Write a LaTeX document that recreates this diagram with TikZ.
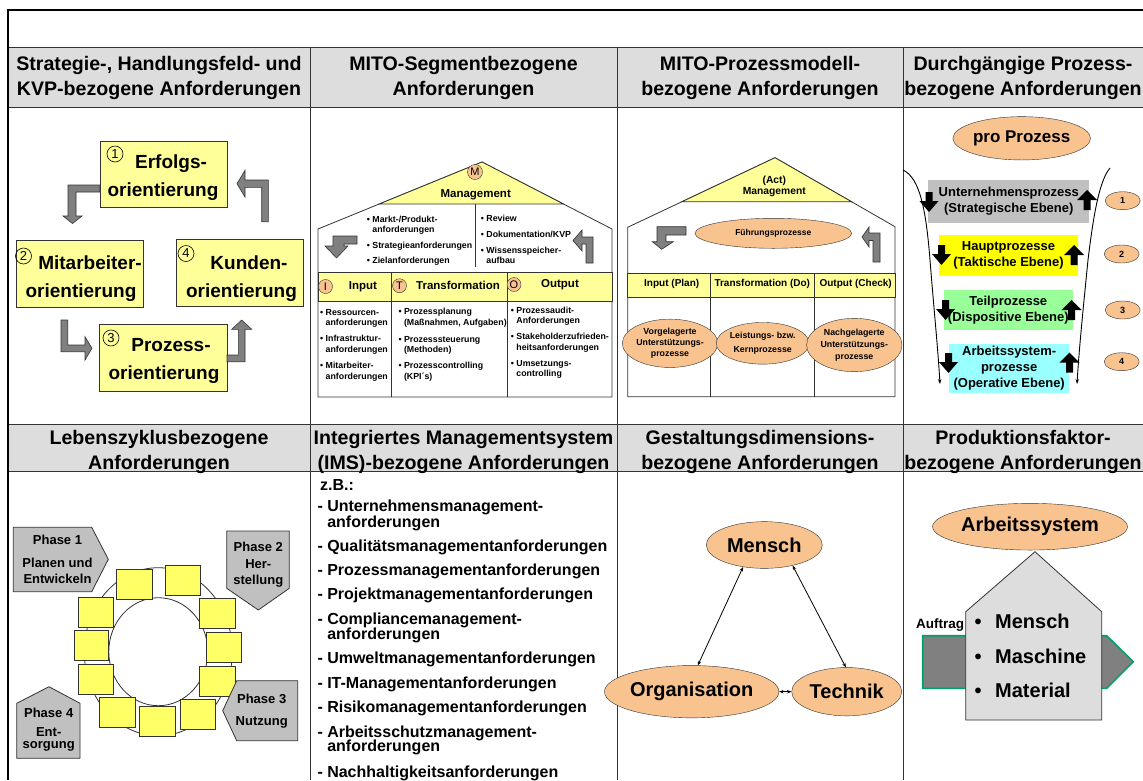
\documentclass[tikz,border=0pt]{standalone}
\usepackage{fontspec}
\setmainfont{Liberation Sans}
\usetikzlibrary{shapes.geometric,arrows.meta}
\definecolor{hdrgray}{HTML}{DDDDDD}
\definecolor{lyellow}{HTML}{FFFF99}
\definecolor{sqyellow}{HTML}{FFFF66}
\definecolor{orangef}{HTML}{F9C390}
\definecolor{arrgray}{HTML}{808080}
\definecolor{phgray}{HTML}{C0C0C0}
\definecolor{lgreen}{HTML}{99FF99}
\definecolor{lcyan}{HTML}{99FFFF}
\definecolor{byellow}{HTML}{FFFF00}
\definecolor{greenline}{HTML}{00A070}
\definecolor{linegray}{HTML}{333333}
\definecolor{housegray}{HTML}{DDDDDD}
\newcommand{\myfs}[2]{\fontsize{#1}{#2}\selectfont\bfseries}
\newcommand{\DnArr}[2]{\fill[black] ({#1-3.5},{#2}) -- ({#1+3.5},{#2}) -- ({#1+3.5},{#2+9}) -- ({#1+9.5},{#2+9}) -- ({#1},{#2+20}) -- ({#1-9.5},{#2+9}) -- ({#1-3.5},{#2+9}) -- cycle;}
\newcommand{\UpArr}[2]{\fill[black] ({#1-3.5},{#2+20}) -- ({#1+3.5},{#2+20}) -- ({#1+3.5},{#2+10}) -- ({#1+10},{#2+10}) -- ({#1},{#2}) -- ({#1-10},{#2+10}) -- ({#1-3.5},{#2+10}) -- cycle;}
\begin{document}
\begin{tikzpicture}[x=1pt,y=-1pt,
  grid/.style={draw=linegray, line width=0.8pt},
  hdr/.style={align=center, inner sep=0pt, font=\myfs{19.6}{25}},
  ybox/.style={draw=linegray, fill=lyellow, line width=0.8pt, inner sep=0pt},
  boxtxt/.style={align=center, inner sep=0pt, font=\myfs{19}{28}},
  numc/.style={circle, draw=black, line width=0.6pt, inner sep=0pt, minimum size=16pt, font=\fontsize{13}{13}\selectfont},
  blockarr/.style={fill=arrgray, draw=linegray, line width=0.6pt},
  house/.style={draw=linegray, line width=0.8pt},
  roof/.style={fill=lyellow, draw=linegray, line width=0.8pt},
  letc/.style={circle, draw=linegray, fill=orangef, inner sep=0pt, minimum size=14pt, font=\fontsize{11}{11}\selectfont},
  lbl/.style={inner sep=0pt, font=\myfs{11.5}{12}},
  small/.style={anchor=base west, inner sep=0pt, font=\myfs{8.8}{10}},
  oell/.style={ellipse, draw=linegray, fill=orangef, inner sep=0pt, align=center},
  lvl/.style={inner sep=0pt, align=center, font=\myfs{13}{15.5}},
  nume/.style={ellipse, draw=linegray, fill=orangef, inner sep=0pt, minimum width=35pt, minimum height=18pt, font=\myfs{9}{9}},
  sq/.style={draw=linegray, fill=sqyellow, line width=0.7pt},
  phase/.style={draw=linegray, fill=phgray, line width=0.8pt},
  phtxt/.style={inner sep=0pt, font=\myfs{13}{13}},
  ims/.style={anchor=base west, inner sep=0pt, font=\myfs{16}{16}},
  biarrow/.style={{Stealth[length=4.5pt,width=3.5pt]}-{Stealth[length=4.5pt,width=3.5pt]}, line width=0.8pt},
  funnel/.style={-{Stealth[length=5pt,width=3.5pt]}, line width=0.9pt}
]
\useasboundingbox (0,0) rectangle (1143,780);
\fill[white] (0,0) rectangle (1143,780);

% ---------- table ----------
\fill[hdrgray] (8,47) rectangle (1143,107);
\fill[hdrgray] (8,424) rectangle (1143,471);
\draw[grid] (8,47) -- (1143,47);
\draw[grid] (8,107) -- (1143,107);
\draw[grid] (8,424) -- (1143,424);
\draw[grid] (8,471) -- (1143,471);
\draw[grid] (310,47) -- (310,780);
\draw[grid] (617,47) -- (617,780);
\draw[grid] (903,47) -- (903,780);

\node[hdr] (h1) at (159,78) {Strategie-, Handlungsfeld- und\\KVP-bezogene Anforderungen};
\node[hdr] (h2) at (463.5,78) {MITO-Segmentbezogene\\Anforderungen};
\node[hdr] (h3) at (760,78) {MITO-Prozessmodell-\\bezogene Anforderungen};
\node[hdr] (h4) at (1023,78) {Durchgängige Prozess-\\bezogene Anforderungen};
\node[hdr] (h5) at (159,452) {Lebenszyklusbezogene\\Anforderungen};
\node[hdr] (h6) at (463.5,452) {Integriertes Managementsystem\\(IMS)-bezogene Anforderungen};
\node[hdr] (h7) at (760,452) {Gestaltungsdimensions-\\bezogene Anforderungen};
\node[hdr] (h8) at (1023,452) {Produktionsfaktor-\\bezogene Anforderungen};

% ---------- panel 1: orientations ----------
\node[ybox, minimum width=127pt, minimum height=66pt] (b1) at (163.5,174) {};
\node[ybox, minimum width=127pt, minimum height=67pt] (b2) at (79.5,273.5) {};
\node[ybox, minimum width=127pt, minimum height=67pt] (b4) at (239.5,272.5) {};
\node[ybox, minimum width=128pt, minimum height=67pt] (b3) at (163,357.5) {};
\node[boxtxt] (t1) at (163,178) {\hspace*{16pt}Erfolgs-\\orientierung};
\node[boxtxt] (t2) at (81,279) {\hspace*{18pt}Mitarbeiter-\\orientierung};
\node[boxtxt] (t4) at (241.5,278.5) {\hspace*{15pt}Kunden-\\orientierung};
\node[boxtxt] (t3) at (164,361) {\hspace*{14pt}Prozess-\\orientierung};
\node[numc] (n1) at (115,154) {1};
\node[numc] (n2) at (23.5,256) {2};
\node[numc] (n4) at (186,253.5) {4};
\node[numc] (n3) at (111,338) {3};
\draw[blockarr] (100,185) -- (68,185) -- (68,216) -- (63,216) -- (72.5,223.5) -- (82,216) -- (76,216) -- (76,192) -- (100,192) -- cycle;
\draw[blockarr] (261.7,221.7) -- (261.7,187.3) -- (245,187.3) -- (245,197) -- (237,183.7) -- (245,170.3) -- (245,180) -- (268.3,180) -- (268.3,221.7) -- cycle;
\draw[blockarr] (61,320) -- (61,351.7) -- (85,351.7) -- (85,360) -- (92,348.3) -- (85,336.7) -- (85,345) -- (67.7,345) -- (67.7,320) -- cycle;
\draw[blockarr] (227,361.7) -- (245,361.7) -- (245,329.3) -- (251.7,329.3) -- (241.7,320) -- (231.7,329.3) -- (238.3,329.3) -- (238.3,355) -- (227,355) -- cycle;

% ---------- panel 2: MITO segment house ----------
\draw[house] (318,397) -- (318,229) -- (482,162) -- (612,229) -- (612,397) -- cycle;
\draw[roof] (379.2,204) -- (482,162) -- (563.5,204) -- cycle;
\draw[grid] (475,204) -- (475,267);
\node[letc, minimum size=15pt] (cM) at (475,172) {M};
\node[lbl] (mg1) at (475.7,195) {Management};
\node[small] (s1) at (366.7,222) {• Markt-/Produkt-};
\node[small] (s2) at (366.7,232) {\phantom{• }anforderungen};
\node[small] (s3) at (366.7,248) {• Strategieanforderungen};
\node[small] (s4) at (366.7,263.7) {• Zielanforderungen};
\node[small] (s5) at (480.7,221) {• Review};
\node[small] (s6) at (480.7,237) {• Dokumentation/KVP};
\node[small] (s7) at (480.7,253) {• Wissensspeicher-};
\node[small] (s8) at (480.7,263.7) {\phantom{• }aufbau};
\draw[blockarr] (357,236) -- (333,236) -- (333,246) -- (325,246) -- (336.5,258) -- (348,246) -- (344,246) -- (344,244) -- (357,244) -- cycle;
\draw[blockarr] (593,263) -- (593,237) -- (582,237) -- (582,230) -- (573,240.5) -- (582,251) -- (582,244) -- (586,244) -- (586,263) -- cycle;
\draw[roof] (318,272.3) rectangle (612,301.7);
\draw[grid] (391.7,272.3) -- (391.7,397);
\draw[grid] (507.7,272.3) -- (507.7,397);
\node[letc] (cI) at (325.5,286.5) {I};
\node[letc] (cT) at (399.5,285.7) {T};
\node[letc] (cO) at (514,284.5) {O};
\node[lbl] (lin) at (363,286.7) {Input};
\node[lbl] (ltr) at (458,285.7) {Transformation};
\node[lbl] (lout) at (560,285) {Output};
\node[small] (a1) at (320,315.7) {• Ressourcen-};
\node[small] (a2) at (320,325.7) {\phantom{• }anforderungen};
\node[small] (a3) at (320,341.7) {• Infrastruktur-};
\node[small] (a4) at (320,352.3) {\phantom{• }anforderungen};
\node[small] (a5) at (320,368.7) {• Mitarbeiter-};
\node[small] (a6) at (320,379.7) {\phantom{• }anforderungen};
\node[small] (m1) at (398.3,314.7) {• Prozessplanung};
\node[small] (m2) at (398.3,325.7) {\phantom{• }(Maßnahmen, Aufgaben)};
\node[small] (m3) at (398.3,342.3) {• Prozesssteuerung};
\node[small] (m4) at (398.3,352.3) {\phantom{• }(Methoden)};
\node[small] (m5) at (398.3,368) {• Prozesscontrolling};
\node[small] (m6) at (398.3,379.7) {\phantom{• }(KPI´s)};
\node[small] (o1) at (510.7,313) {• Prozessaudit-};
\node[small] (o2) at (510.7,323.7) {\phantom{• }Anforderungen};
\node[small] (o3) at (510.7,339.7) {• Stakeholderzufrieden-};
\node[small] (o4) at (510.7,350.3) {\phantom{• }heitsanforderungen};
\node[small] (o5) at (510.7,366.3) {• Umsetzungs-};
\node[small] (o6) at (510.7,376.3) {\phantom{• }controlling};

% ---------- panel 3: MITO process model house ----------
\draw[house] (627.7,396.7) -- (627.7,227.3) -- (775,157.7) -- (895,226.7) -- (895,396.7) -- cycle;
\draw[roof] (682,201.7) -- (775,157.7) -- (851.5,201.7) -- cycle;
\node[inner sep=0pt, align=center, font=\myfs{10.3}{10.5}] (act) at (774.3,186.5) {(Act)\\Management};
\node[oell, minimum width=156.7pt, minimum height=30pt, font=\myfs{8.5}{9}] (fuehr) at (773.3,233.3) {Führungsprozesse};
\draw[blockarr] (686,226.7) -- (657,226.7) -- (657,241.7) -- (652.3,241.7) -- (661.7,249.3) -- (673.3,241.7) -- (666,241.7) -- (666,235) -- (686,235) -- cycle;
\draw[blockarr] (880,262) -- (880,233) -- (869,233) -- (869,227) -- (862,237) -- (869,247) -- (869,240.5) -- (873,240.5) -- (873,262) -- cycle;
\draw[roof] (627.7,273.3) rectangle (895,297.3);
\draw[grid] (710.7,273.3) -- (710.7,396.7);
\draw[grid] (814.3,273.3) -- (814.3,396.7);
\node[inner sep=0pt, font=\myfs{10}{10}] (ip) at (671.7,284.3) {Input (Plan)};
\node[inner sep=0pt, font=\myfs{10}{10}] (tp) at (762.3,284.3) {Transformation (Do)};
\node[inner sep=0pt, font=\myfs{10}{10}] (op) at (855.7,284.3) {Output (Check)};
\node[oell, minimum width=75pt, minimum height=48.3pt, font=\myfs{8.8}{11.2}] (vor) at (670,343.3) {Vorgelagerte\\Unterstützungs-\\prozesse};
\node[oell, minimum width=91.7pt, minimum height=41.7pt, font=\myfs{8.8}{13.5}] (kern) at (762.7,343.3) {Leistungs- bzw.\\Kernprozesse};
\node[oell, minimum width=79.3pt, minimum height=53.3pt, font=\myfs{8.8}{12}] (nach) at (854.3,345) {Nachgelagerte\\Unterstützungs-\\prozesse};

% ---------- panel 4: process levels ----------
\node[oell, minimum width=116.7pt, minimum height=43.3pt, font=\myfs{17}{17}] (pro) at (1021.7,138.3) {pro Prozess};
\node[lvl, fill=phgray, minimum width=161pt, minimum height=42.7pt] (r1) at (1008.8,201.3) {Unternehmensprozess\\(Strategische Ebene)};
\node[lvl, fill=byellow, minimum width=138.4pt, minimum height=40.7pt] (r2) at (1008.5,255.3) {Hauptprozesse\\(Taktische Ebene)};
\node[lvl, fill=lgreen, minimum width=128.7pt, minimum height=40pt] (r3) at (1008.3,310) {Teilprozesse\\(Dispositive Ebene)};
\node[lvl, fill=lcyan, minimum width=119.7pt, minimum height=48.7pt, font=\myfs{13}{16}] (r4) at (1009.2,368.3) {Arbeitssystem-\\prozesse\\(Operative Ebene)};
\draw[funnel] (903,170) .. controls (920,178) and (926,210) .. (930,260) .. controls (934,310) and (938,350) .. (940,384);
\draw[funnel] (1110,168) .. controls (1100,180) and (1094,210) .. (1088,260) .. controls (1083,310) and (1079,350) .. (1077,384);
\DnArr{929}{192}
\UpArr{1087}{190}
\DnArr{941.5}{245}
\UpArr{1074}{245}
\DnArr{945.5}{300}
\UpArr{1071.7}{300}
\DnArr{948.5}{353}
\UpArr{1069.5}{352.7}
\node[nume] (e1) at (1122.7,200.7) {1};
\node[nume] (e2) at (1121.7,254) {2};
\node[nume] (e3) at (1122.7,310) {3};
\node[nume] (e4) at (1121.7,361.7) {4};

% ---------- panel 5: life cycle ----------
\draw[linegray, line width=0.8pt] (158.3,651.7) ellipse [x radius=74, y radius=84];
\draw[linegray, line width=0.8pt] (158.3,651.7) ellipse [x radius=49.5, y radius=54];
\draw[sq] (116.7,569.3) rectangle (152.7,599.3);
\draw[sq] (165,565) rectangle (200,595);
\draw[sq] (199.3,598.3) rectangle (235,628.3);
\draw[sq] (206,632.7) rectangle (241.7,662.7);
\draw[sq] (199.3,666) rectangle (235,696);
\draw[sq] (180,699.3) rectangle (215,729.3);
\draw[sq] (139.3,706) rectangle (175,736);
\draw[sq] (99.3,697.3) rectangle (135,727.3);
\draw[sq] (78.7,664) rectangle (113.3,694);
\draw[sq] (74,630.7) rectangle (108.3,660.7);
\draw[sq] (78.7,597.3) rectangle (113.3,627.3);
\draw[phase] (13.3,527.3) -- (91.7,527.3) -- (108.3,559.3) -- (91.7,591.7) -- (13.3,591.7) -- cycle;
\draw[phase] (226.7,531) -- (289.3,531) -- (289.3,588.3) -- (258.3,610) -- (226.7,588.3) -- cycle;
\draw[phase] (236.7,680.7) -- (297.7,680.7) -- (297.7,740.7) -- (236.7,740.7) -- (222.7,710.7) -- cycle;
\draw[phase] (16.7,703.3) -- (49,686.7) -- (80,703.3) -- (80,758.3) -- (16.7,758.3) -- cycle;
\node[phtxt] (p1a) at (57.5,540) {Phase 1};
\node[phtxt] (p1b) at (57.5,563.3) {Planen und};
\node[phtxt] (p1c) at (57.5,579.3) {Entwickeln};
\node[phtxt] (p2a) at (258.3,546.7) {Phase 2};
\node[phtxt] (p2b) at (258.3,564) {Her-};
\node[phtxt] (p2c) at (258.3,581) {stellung};
\node[phtxt] (p3a) at (261.7,699.3) {Phase 3};
\node[phtxt] (p3b) at (261.7,722.7) {Nutzung};
\node[phtxt] (p4a) at (48.7,713.3) {Phase 4};
\node[phtxt] (p4b) at (48.7,731.7) {Ent-};
\node[phtxt] (p4c) at (48.7,746.7) {sorgung};

% ---------- panel 6: IMS ----------
\node[ims] (i0) at (320,490.5) {z.B.:};
\node[ims] (i1) at (317.3,511.5) {- Unternehmensmanagement-};
\node[ims] (i2) at (317.3,527.2) {\phantom{- }anforderungen};
\node[ims] (i3) at (317.3,551.5) {- Qualitätsmanagementanforderungen};
\node[ims] (i4) at (317.3,575.5) {- Prozessmanagementanforderungen};
\node[ims] (i5) at (317.3,599.5) {- Projektmanagementanforderungen};
\node[ims] (i6) at (317.3,624.8) {- Compliancemanagement-};
\node[ims] (i7) at (317.3,639.5) {\phantom{- }anforderungen};
\node[ims] (i8) at (317.3,663.8) {- Umweltmanagementanforderungen};
\node[ims] (i9) at (317.3,688.2) {- IT-Managementanforderungen};
\node[ims] (i10) at (317.3,712.2) {- Risikomanagementanforderungen};
\node[ims] (i11) at (317.3,737.2) {- Arbeitsschutzmanagement-};
\node[ims] (i12) at (317.3,751.5) {\phantom{- }anforderungen};
\node[ims] (i13) at (317.3,777) {- Nachhaltigkeitsanforderungen};

% ---------- panel 7: design dimensions ----------
\node[oell, minimum width=116pt, minimum height=46.7pt, font=\myfs{20}{20}] (mensch) at (764.3,545) {Mensch};
\node[oell, minimum width=141pt, minimum height=52.3pt, font=\myfs{20}{20}] (org) at (691.7,691.7) {Organisation};
\node[oell, minimum width=110pt, minimum height=48.3pt, font=\myfs{20}{20}] (tech) at (846.7,691.7) {Technik};
\draw[biarrow] (mensch.226) -- (org.77);
\draw[biarrow] (mensch.324) -- (tech.92);
\draw[biarrow] (org.east) -- (tech.west);

% ---------- panel 8: production factors ----------
\node[oell, minimum width=171pt, minimum height=46.7pt, font=\myfs{20}{20}] (as) at (1030,526.7) {Arbeitssystem};
\draw[fill=arrgray, draw=greenline, line width=1.6pt] (922.7,635.7) -- (1106.7,635.7) -- (1133.3,661.7) -- (1106.7,688.3) -- (922.7,688.3) -- cycle;
\draw[fill=housegray, draw=linegray, line width=0.8pt] (965.7,720) -- (965.7,611.7) -- (1035,551.7) -- (1101.7,611.7) -- (1101.7,720) -- cycle;
\node[anchor=base, inner sep=0pt, font=\myfs{13.5}{13.5}] (auf) at (940,628) {Auftrag};
\node[anchor=base west, inner sep=0pt, font=\myfs{20}{20}] (f1) at (974.5,628.7) {•\hspace{13.5pt}Mensch};
\node[anchor=base west, inner sep=0pt, font=\myfs{20}{20}] (f2) at (974.5,663) {•\hspace{13.5pt}Maschine};
\node[anchor=base west, inner sep=0pt, font=\myfs{20}{20}] (f3) at (974.5,697.7) {•\hspace{13.5pt}Material};

% ---------- outer frame ----------
\draw[black, line width=2.5pt] (8,780) -- (8,10) -- (1143,10);
\end{tikzpicture}
\end{document}
